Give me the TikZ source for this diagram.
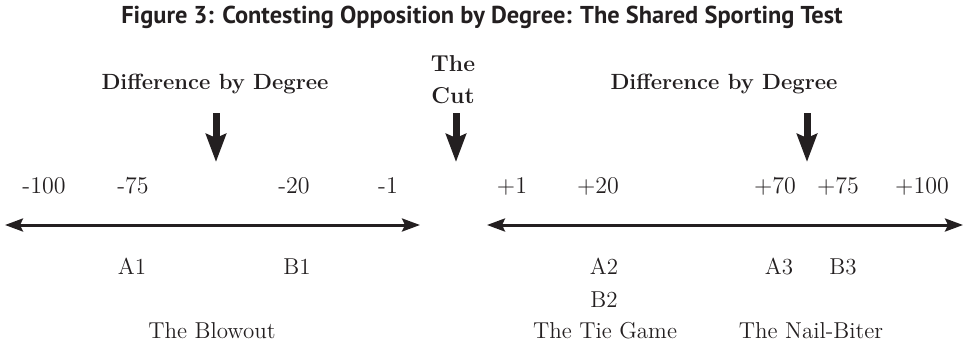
\documentclass[tikz,border=0pt]{standalone}
\usepackage{fontspec}
\newfontfamily\titlefont{PT Sans}
\usetikzlibrary{arrows.meta, positioning}
\definecolor{inkblack}{HTML}{231F20}

\begin{document}
\begin{tikzpicture}[x=0.5pt, y=0.5pt, inner sep=0pt, text=inkblack,
    numlbl/.style={anchor=base, font=\fontsize{12}{14}\selectfont},
    gamelbl/.style={anchor=base, font=\fontsize{11.5}{14}\selectfont},
    headlbl/.style={anchor=base, font=\fontsize{11}{16}\bfseries},
    axisline/.style={draw=inkblack, line width=1.5pt, {Stealth[length=9pt, width=6.5pt, inset=1.5pt]}-{Stealth[length=9pt, width=6.5pt, inset=1.5pt]}},
    downarrow/.style={draw=inkblack, line width=3.5pt, -{Stealth[length=14pt, width=10pt, inset=2pt]}}]
    \useasboundingbox (0,0) rectangle (964,345);

    % Title
    \node[anchor=base, font=\titlefont\bfseries\fontsize{12.2}{14}\selectfont] (title) at (482,322) {Figure 3: Contesting Opposition by Degree: The Shared Sporting Test};

    % Headings
    \node[headlbl] (degL) at (215,256) {Difference by Degree};
    \node[headlbl] (degR) at (724,256) {Difference by Degree};
    \node[anchor=north, align=center, font=\fontsize{11.5}{16}\bfseries] (cut) at (453,290) {The\\Cut};

    % Pointer arrows
    \coordinate (pL) at (216,232);
    \coordinate (pC) at (456,232);
    \coordinate (pR) at (807,232);
    \draw[downarrow] (pL) -- (216,183) coordinate (pLend);
    \draw[downarrow] (pC) -- (456,183) coordinate (pCend);
    \draw[downarrow] (pR) -- (807,183) coordinate (pRend);

    % Scale values
    \node[numlbl] (m100) at (44,152) {-100};
    \node[numlbl] (m75) at (133,152) {-75};
    \node[numlbl] (m20) at (294,152) {-20};
    \node[numlbl] (m1) at (388,152) {-1};
    \node[numlbl] (p1) at (512,152) {+1};
    \node[numlbl] (p20) at (598,152) {+20};
    \node[numlbl] (p70) at (775,152) {+70};
    \node[numlbl] (p75) at (838,152) {+75};
    \node[numlbl] (p100) at (922,152) {+100};

    % Axes
    \coordinate (axLw) at (5,120);
    \coordinate (axLe) at (420,120);
    \coordinate (axRw) at (487,120);
    \coordinate (axRe) at (963,120);
    \draw[axisline] (axLw) -- (axLe);
    \draw[axisline] (axRw) -- (axRe);

    % Teams
    \node[gamelbl] (a1) at (132,71) {A1};
    \node[gamelbl] (b1) at (297,71) {B1};
    \node[gamelbl] (a2) at (604,71) {A2};
    \node[gamelbl] (b2) at (604,38) {B2};
    \node[gamelbl] (a3) at (779,71) {A3};
    \node[gamelbl] (b3) at (843,71) {B3};

    % Games
    \node[gamelbl] (blowout) at (212,7) {The Blowout};
    \node[gamelbl] (tiegame) at (605,7) {The Tie Game};
    \node[gamelbl] (nailbiter) at (811,7) {The Nail-Biter};
\end{tikzpicture}
\end{document}
